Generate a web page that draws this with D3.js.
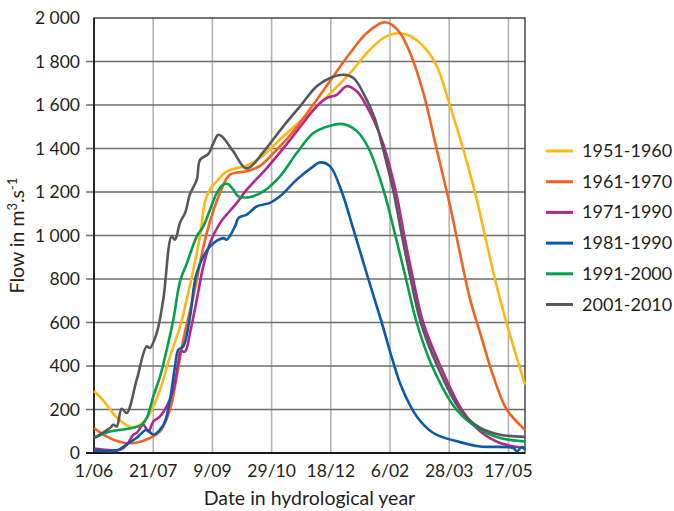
<!DOCTYPE html>
<html>
<head>
<meta charset="utf-8">
<script src="https://cdn.jsdelivr.net/npm/d3@7"></script>
<style>
  body { margin: 0; background: #fff; }
  svg text { font-family: Lato, "Open Sans", sans-serif; fill: #231f20; }
</style>
</head>
<body>
<div id="chart"></div>
<script>
// day 0 = 1 June, values in m3/s
const periods = ['1951-1960', '1961-1970', '1971-1990', '1981-1990', '1991-2000', '2001-2010'];
const colors = ['#fdb813', '#f26322', '#b5258f', '#0c5aa6', '#06a04c', '#58585a'];

const tickDays = [0, 50, 100, 150, 200, 250, 300, 350];
const tickLabels = ['1/06', '21/07', '9/09', '29/10', '18/12', '6/02', '28/03', '17/05'];
const flowTicks = [0, 200, 400, 600, 800, 1000, 1200, 1400, 1600, 1800, 2000];

const flow1951 = [[0,285],[9.3,232],[19.4,162],[31.8,118],[40.3,135],[47.3,184],[55.8,291],[64.2,444],[72.7,582],[78.3,705],[89.6,1000],[94,1160],[99,1222],[103.7,1249],[112.1,1295],[129,1322],[140.2,1356],[160,1456],[188,1594],[216.3,1747],[230.4,1839],[244.4,1908],[252.9,1928],[264.2,1923],[278.2,1870],[289.5,1778],[300.8,1594],[312,1394],[323.3,1165],[332.9,933],[343,705],[354.2,490],[364,314]];
const flow1961 = [[0,115],[9.3,80],[19.4,55],[27.9,45],[38.9,52],[47.3,69],[55.8,99],[64.2,199],[69.9,352],[75.4,521],[83.9,720],[95.2,1011],[106.4,1195],[114.9,1280],[129,1295],[140.2,1320],[151.5,1379],[165.6,1460],[188.1,1624],[216.3,1839],[230.4,1931],[244.4,1980],[250,1974],[258.5,1931],[267,1839],[278.2,1655],[289.5,1394],[300.8,1134],[309.2,915],[317.7,705],[326.1,552],[337.3,352],[348.7,199],[364,107]];
const flow1971 = [[0,20],[9.3,15],[22,15],[27.9,40],[33.2,84],[36.1,92],[41.6,130],[45.9,99],[50.1,145],[55.8,168],[61.4,214],[67,291],[71.2,414],[73.2,467],[76.9,467],[81.1,552],[86.8,705],[92.3,858],[98,966],[106.4,1057],[120.6,1150],[129,1211],[145.9,1310],[162.8,1420],[188.1,1594],[196.5,1632],[205,1647],[213.5,1686],[221.9,1663],[230.4,1594],[243,1440],[255,1200],[262,1000],[269.5,800],[278,600],[292.5,400],[310.5,200],[326.1,100],[343,46],[364,23]];
const flow1981 = [[0,12],[19.2,12],[27.6,40],[36.1,70],[44.5,107],[50.1,84],[55.8,107],[60,145],[64.2,245],[68.4,398],[71.2,475],[75.4,490],[81.1,628],[86.8,828],[98,950],[109.2,988],[112.1,981],[119.1,1042],[121.9,1080],[129,1096],[137.5,1134],[148.7,1150],[157.1,1180],[171.2,1257],[185.3,1318],[190.9,1336],[199.4,1318],[209.3,1200],[219,1030],[231.7,800],[243,600],[252,430],[260,300],[272.6,168],[286.6,92],[309.2,50],[326.1,30],[354.2,23],[357.1,7],[361.3,28],[364,15]];
const flow1991 = [[0,69],[13.5,99],[27.6,110],[40.3,130],[44.5,161],[50.1,260],[55.8,352],[61.4,475],[67,613],[72.7,790],[78.3,870],[86.8,996],[92.3,1042],[98,1119],[103.7,1195],[109.2,1234],[113.5,1236],[117.7,1211],[121.9,1180],[131.8,1177],[143,1203],[157.1,1272],[171.2,1379],[185.3,1471],[199.4,1505],[210.6,1512],[222,1480],[232,1400],[245,1200],[254.5,1000],[263.5,800],[272.5,600],[285.5,400],[306,200],[326.1,107],[343,69],[364,53]];
const flow2001 = [[0,69],[13.5,115],[16.3,130],[19.2,122],[23.4,203],[27.6,184],[36.1,337],[44.5,490],[47.3,483],[53,552],[58.5,705],[65.6,996],[68.4,981],[72.7,1060],[76.9,1103],[81.1,1190],[86.8,1257],[89.6,1348],[96.6,1375],[100.8,1425],[105,1463],[107.9,1456],[117.7,1386],[127.6,1310],[131.8,1314],[144.5,1394],[159.9,1502],[174,1594],[188.1,1686],[199.4,1724],[210.6,1739],[219.1,1724],[227.5,1655],[237,1540],[244,1400],[253,1200],[260,1000],[267.5,800],[276,600],[290,400],[309,200],[326.1,115],[343,84],[364,74]];

const series = [flow1951, flow1961, flow1971, flow1981, flow1991, flow2001];

let width = 674;
let height = 511;
let plot = {left: 94, right: 525, top: 18, bottom: 453};

let svg = d3.select('#chart').append('svg')
  .attr('width', width)
  .attr('height', height);

let x = d3.scaleLinear().domain([0, 364]).range([plot.left, plot.right]);
let y = d3.scaleLinear().domain([0, 2000]).range([plot.bottom, plot.top]);

let fmt = d3.formatLocale({decimal: '.', thousands: ' ', grouping: [3], currency: ['', '']}).format(',');

// vertical grid
svg.append('g')
  .selectAll('line')
  .data(tickDays.slice(1))
  .enter()
  .append('line')
  .attr('x1', d => x(d)).attr('x2', d => x(d))
  .attr('y1', plot.top).attr('y2', plot.bottom)
  .style('stroke', '#b4b4b4')
  .style('stroke-width', 1.6);

// horizontal grid + ticks
svg.append('g')
  .selectAll('line')
  .data(flowTicks.slice(1, -1))
  .enter()
  .append('line')
  .attr('x1', plot.left - 8).attr('x2', plot.right)
  .attr('y1', d => y(d)).attr('y2', d => y(d))
  .style('stroke', '#6e6e6e')
  .style('stroke-width', 1.4);

// frame
svg.append('rect')
  .attr('x', plot.left).attr('y', plot.top)
  .attr('width', plot.right - plot.left).attr('height', plot.bottom - plot.top)
  .style('fill', 'none')
  .style('stroke', '#3c3c3c')
  .style('stroke-width', 1.4);

svg.append('line')
  .attr('x1', plot.left).attr('x2', plot.left)
  .attr('y1', plot.top).attr('y2', plot.bottom)
  .style('stroke', '#1a1a1a').style('stroke-width', 1.6);

svg.append('line')
  .attr('x1', plot.left - 8).attr('x2', plot.right)
  .attr('y1', plot.bottom).attr('y2', plot.bottom)
  .style('stroke', '#1a1a1a').style('stroke-width', 2);

// y labels
svg.append('g')
  .selectAll('text')
  .data(flowTicks)
  .enter()
  .append('text')
  .attr('x', 80)
  .attr('y', d => y(d) + 6)
  .attr('text-anchor', 'end')
  .style('font-size', '17.5px')
  .text(d => fmt(d));

// x labels
svg.append('g')
  .selectAll('text')
  .data(tickDays)
  .enter()
  .append('text')
  .attr('x', d => x(d))
  .attr('y', 477)
  .attr('text-anchor', 'middle')
  .style('font-size', '17.5px')
  .text((d, i) => tickLabels[i]);

svg.append('text')
  .attr('x', (plot.left + plot.right) / 2)
  .attr('y', 505)
  .attr('text-anchor', 'middle')
  .style('font-size', '19.5px')
  .text('Date in hydrological year');

let yTitle = svg.append('text')
  .attr('transform', `translate(24,${(plot.top + plot.bottom) / 2}) rotate(-90)`)
  .attr('text-anchor', 'middle')
  .style('font-size', '19.5px');
yTitle.append('tspan').text('Flow in m');
yTitle.append('tspan').attr('dy', -7).style('font-size', '13px').text('3');
yTitle.append('tspan').attr('dy', 7).text('.s');
yTitle.append('tspan').attr('dy', -7).style('font-size', '13px').text('-1');

// lines
let line = d3.line()
  .x(d => x(d[0]))
  .y(d => y(d[1]))
  .curve(d3.curveCatmullRom.alpha(0.5));

svg.append('g')
  .selectAll('path')
  .data(series)
  .enter()
  .append('path')
  .attr('d', line)
  .style('fill', 'none')
  .style('stroke', (d, i) => colors[i])
  .style('stroke-width', 2.6)
  .style('stroke-linejoin', 'round');

// legend
let legend = svg.append('g')
  .selectAll('g')
  .data(periods)
  .enter()
  .append('g')
  .attr('transform', (d, i) => `translate(0,${151 + i * 30.7})`);

legend.append('line')
  .attr('x1', 546).attr('x2', 573)
  .style('stroke', (d, i) => colors[i])
  .style('stroke-width', 3);

legend.append('text')
  .attr('x', 582)
  .attr('y', 6)
  .style('font-size', '18px')
  .text(d => d);
</script>
</body>
</html>
